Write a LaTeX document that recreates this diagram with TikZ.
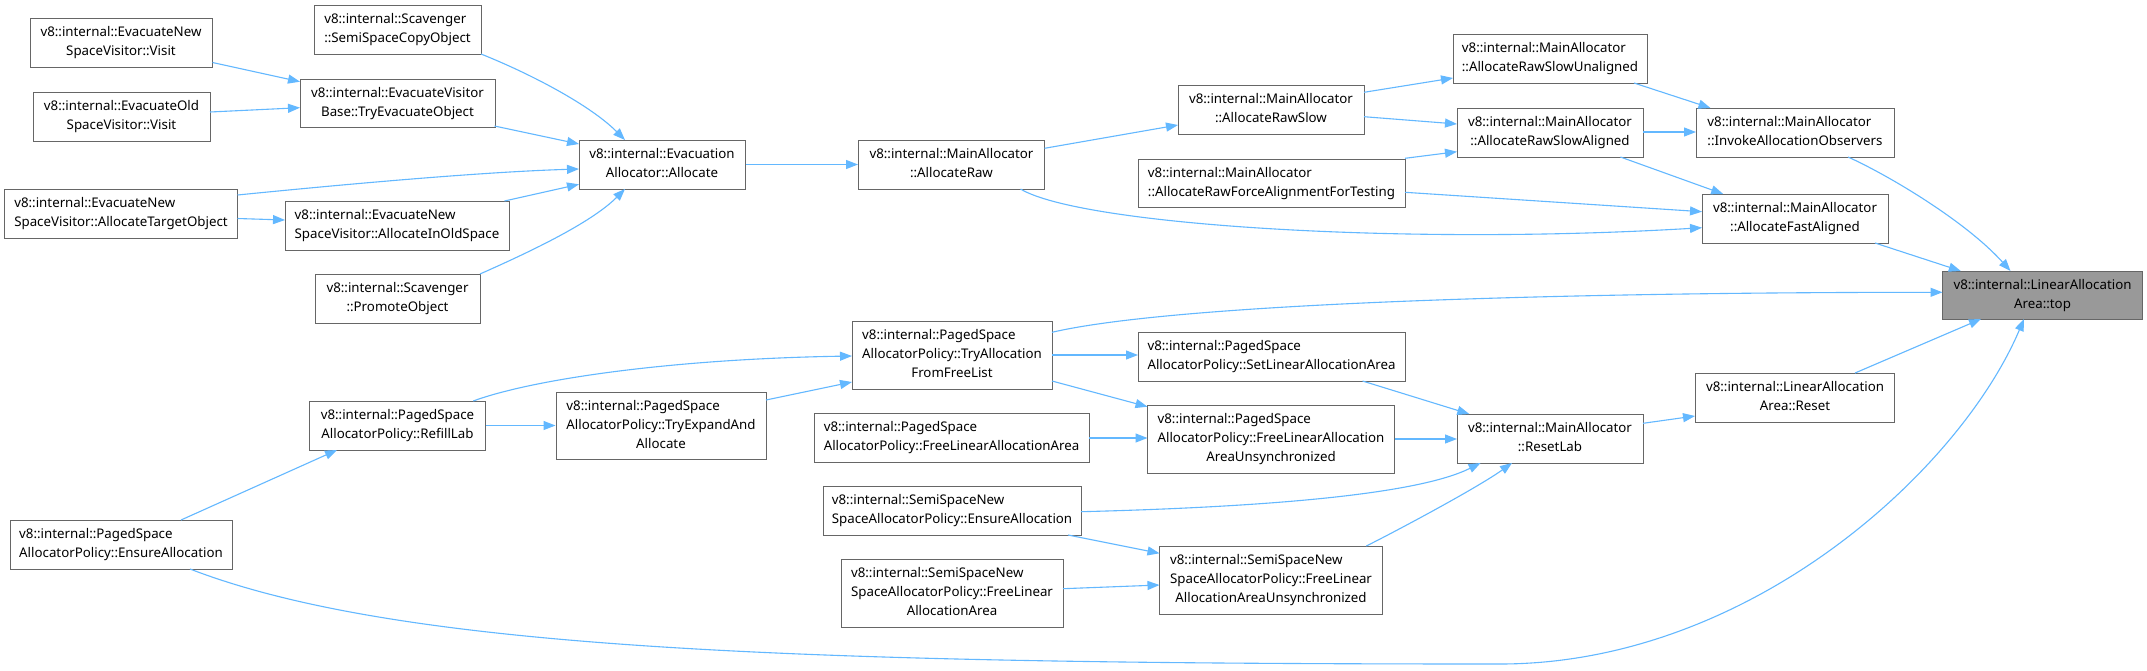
\documentclass[tikz,border=0pt]{standalone}
\usepackage{fontspec}
\setmainfont{Noto Sans}
\usetikzlibrary{arrows.meta}
\definecolor{edgec}{HTML}{63B8FF}
\definecolor{boxc}{HTML}{666666}
\definecolor{topfill}{HTML}{999999}
\newcommand{\nlbl}[1]{\begin{tabular}{@{}l@{}}#1\end{tabular}}
\newcommand{\lastln}[1]{\multicolumn{1}{@{}c@{}}{#1}}
\tikzset{
  box/.style={draw=boxc, line width=1pt, fill=white, inner sep=0pt,
    font=\fontsize{13.3}{19}\selectfont},
  edge/.style={draw=edgec, line width=1.1pt, -{Triangle[length=12pt,width=9pt]}},
}
\begin{document}
\begin{tikzpicture}[x=1pt,y=-1pt]
\fill[white] (0,0) rectangle (2147,670);
\useasboundingbox (0,0) rectangle (2147,670);

\node[box,minimum width=182pt,minimum height=49pt] (ev1) at (121,42.5) {\nlbl{v8::internal::EvacuateNew\\\lastln{SpaceVisitor::Visit}}};
\node[box,minimum width=177pt,minimum height=49pt] (ev2) at (121.5,116.5) {\nlbl{v8::internal::EvacuateOld\\\lastln{SpaceVisitor::Visit}}};
\node[box,minimum width=167pt,minimum height=49pt] (sc1) at (397.5,29.5) {\nlbl{v8::internal::Scavenger\\\lastln{::SemiSpaceCopyObject}}};
\node[box,minimum width=195pt,minimum height=48pt] (tre) at (397.5,103) {\nlbl{v8::internal::EvacuateVisitor\\\lastln{Base::TryEvacuateObject}}};
\node[box,minimum width=166pt,minimum height=49pt] (eva) at (662,164.5) {\nlbl{v8::internal::Evacuation\\\lastln{Allocator::Allocate}}};
\node[box,minimum width=233pt,minimum height=49pt] (ato) at (121,213.5) {\nlbl{v8::internal::EvacuateNew\\\lastln{SpaceVisitor::AllocateTargetObject}}};
\node[box,minimum width=224pt,minimum height=49pt] (aio) at (397,225.5) {\nlbl{v8::internal::EvacuateNew\\\lastln{SpaceVisitor::AllocateInOldSpace}}};
\node[box,minimum width=165pt,minimum height=49pt] (pro) at (397.5,298.5) {\nlbl{v8::internal::Scavenger\\\lastln{::PromoteObject}}};
\node[box,minimum width=176pt,minimum height=49pt] (rfl) at (397.5,425.5) {\nlbl{v8::internal::PagedSpace\\\lastln{AllocatorPolicy::RefillLab}}};
\node[box,minimum width=222pt,minimum height=49pt] (pea) at (121,544.5) {\nlbl{v8::internal::PagedSpace\\\lastln{AllocatorPolicy::EnsureAllocation}}};
\node[box,minimum width=210pt,minimum height=67pt] (tex) at (661,425.5) {\nlbl{v8::internal::PagedSpace\\AllocatorPolicy::TryExpandAnd\\\lastln{Allocate}}};
\node[box,minimum width=186pt,minimum height=49pt] (arw) at (951.5,164.5) {\nlbl{v8::internal::MainAllocator\\\lastln{::AllocateRaw}}};
\node[box,minimum width=186pt,minimum height=49pt] (ars) at (1271,109.5) {\nlbl{v8::internal::MainAllocator\\\lastln{::AllocateRawSlow}}};
\node[box,minimum width=267pt,minimum height=48pt] (afa) at (1271.5,183) {\nlbl{v8::internal::MainAllocator\\\lastln{::AllocateRawForceAlignmentForTesting}}};
\node[box,minimum width=200pt,minimum height=68pt] (tfl) at (952,355) {\nlbl{v8::internal::PagedSpace\\AllocatorPolicy::TryAllocation\\\lastln{FromFreeList}}};
\node[box,minimum width=267pt,minimum height=49pt] (sla) at (1271.5,356.5) {\nlbl{v8::internal::PagedSpace\\\lastln{AllocatorPolicy::SetLinearAllocationArea}}};
\node[box,minimum width=247pt,minimum height=68pt] (pfu) at (1271,439) {\nlbl{v8::internal::PagedSpace\\AllocatorPolicy::FreeLinearAllocation\\\lastln{AreaUnsynchronized}}};
\node[box,minimum width=275pt,minimum height=49pt] (pfl) at (951.5,437.5) {\nlbl{v8::internal::PagedSpace\\\lastln{AllocatorPolicy::FreeLinearAllocationArea}}};
\node[box,minimum width=258pt,minimum height=49pt] (sea) at (952,510.5) {\nlbl{v8::internal::SemiSpaceNew\\\lastln{SpaceAllocatorPolicy::EnsureAllocation}}};
\node[box,minimum width=222pt,minimum height=68pt] (sfl) at (952,593) {\nlbl{v8::internal::SemiSpaceNew\\SpaceAllocatorPolicy::FreeLinear\\\lastln{AllocationArea}}};
\node[box,minimum width=223pt,minimum height=68pt] (sfu) at (1271,580) {\nlbl{v8::internal::SemiSpaceNew\\SpaceAllocatorPolicy::FreeLinear\\\lastln{AllocationAreaUnsynchronized}}};
\node[box,minimum width=194pt,minimum height=49pt] (rsu) at (1550,58.5) {\nlbl{v8::internal::MainAllocator\\\lastln{::AllocateRawSlowUnaligned}}};
\node[box,minimum width=186pt,minimum height=49pt] (rsa) at (1550,132.5) {\nlbl{v8::internal::MainAllocator\\\lastln{::AllocateRawSlowAligned}}};
\node[box,minimum width=198pt,minimum height=49pt] (iao) at (1795,132.5) {\nlbl{v8::internal::MainAllocator\\\lastln{::InvokeAllocationObservers}}};
\node[box,minimum width=186pt,minimum height=49pt] (fal) at (1795,218.5) {\nlbl{v8::internal::MainAllocator\\\lastln{::AllocateFastAligned}}};
\node[box,fill=topfill,minimum width=200pt,minimum height=48pt] (tgt) at (2042.5,295) {\nlbl{v8::internal::LinearAllocation\\\lastln{Area::top}}};
\node[box,minimum width=186pt,minimum height=49pt] (rlb) at (1550,438.5) {\nlbl{v8::internal::MainAllocator\\\lastln{::ResetLab}}};
\node[box,minimum width=199pt,minimum height=49pt] (rst) at (1795,397.5) {\nlbl{v8::internal::LinearAllocation\\\lastln{Area::Reset}}};

\draw[edge] ([shift={(91.5,20)}]ev1.center) -- ([shift={(-97.5,-21.3)}]tre.center);
\draw[edge] ([shift={(88.5,-4.5)}]ev2.center) -- ([shift={(-97.5,4.7)}]tre.center);
\draw[edge] ([shift={(97,23)}]tre.center) -- ([shift={(-83,-20.5)}]eva.center);
\draw[edge] ([shift={(83.5,24.5)}]sc1.center) .. controls +(50,20) and +(-35,-35) .. ([shift={(-37,-24.5)}]eva.center);
\draw[edge] ([shift={(116.5,-18.5)}]ato.center) .. controls +(100,-10) and +(-100,3) .. ([shift={(-83,4.5)}]eva.center);
\draw[edge] ([shift={(116.5,5)}]ato.center) -- ([shift={(-112,-5.5)}]aio.center);
\draw[edge] ([shift={(107.5,-24.5)}]aio.center) -- ([shift={(-83,19.8)}]eva.center);
\draw[edge] ([shift={(82.5,-24.5)}]pro.center) .. controls +(45,-20) and +(-35,35) .. ([shift={(-37,24.5)}]eva.center);
\draw[edge] (eva.east) -- (arw.west);
\draw[edge] ([shift={(93,-16.2)}]arw.center) -- ([shift={(-93,15.5)}]ars.center);
\draw[edge] ([shift={(69,24.5)}]arw.center) .. controls +(60,36) and +(-300,18) .. ([shift={(-93,9.2)}]fal.center);
\draw[edge] ([shift={(93,-17.2)}]ars.center) -- ([shift={(-97,19.5)}]rsu.center);
\draw[edge] ([shift={(93,7.2)}]ars.center) -- ([shift={(-93,-8.5)}]rsa.center);
\draw[edge] ([shift={(133.5,-24.7)}]afa.center) -- ([shift={(-93,19.2)}]rsa.center);
\draw[edge] ([shift={(133.5,9.3)}]afa.center) -- ([shift={(-93,-6.8)}]fal.center);
\draw[edge] ([shift={(84,24.5)}]rsu.center) -- ([shift={(-84.5,-24.5)}]iao.center);
\draw[edge] ([shift={(93,-0.5)}]rsa.center) -- ([shift={(-99,-0.5)}]iao.center);
\draw[edge] ([shift={(70.4,24.5)}]rsa.center) -- ([shift={(-71.8,-24.5)}]fal.center);
\draw[edge] ([shift={(53,24.5)}]iao.center) .. controls +(40,18) and +(-45,-50) .. ([shift={(-32,-24)}]tgt.center);
\draw[edge] ([shift={(80,24.5)}]fal.center) -- ([shift={(-81.7,-24)}]tgt.center);
\draw[edge] ([shift={(100,-22.7)}]tfl.center) .. controls +(120,-28) and +(-400,0) .. ([shift={(-100,-2.7)}]tgt.center);
\draw[edge] ([shift={(60,-24.5)}]rst.center) -- ([shift={(-61.5,24)}]tgt.center);
\draw[edge] ([shift={(69,24.5)}]pea.center) .. controls +(210,81) and +(-700,0) .. (1500,664) .. controls +(250,0) and +(-64,151) .. ([shift={(-18.5,24)}]tgt.center);
\draw[edge] ([shift={(93,-15.2)}]rlb.center) -- ([shift={(-100,18.5)}]rst.center);
\draw[edge] ([shift={(91,24.5)}]sla.center) -- ([shift={(-80.7,-24.5)}]rlb.center);
\draw[edge] ([shift={(123.5,0)}]pfu.center) -- ([shift={(-93,0.5)}]rlb.center);
\draw[edge] ([shift={(129,1.2)}]sea.center) .. controls +(200,-5) and +(-60,30) .. ([shift={(-69.4,24.5)}]rlb.center);
\draw[edge] ([shift={(100,0)}]tfl.center) -- ([shift={(-133.5,-1.5)}]sla.center);
\draw[edge] ([shift={(100,26)}]tfl.center) -- ([shift={(-123.5,-32.3)}]pfu.center);
\draw[edge] ([shift={(137.5,0.5)}]pfl.center) -- ([shift={(-123.5,-1)}]pfu.center);
\draw[edge] ([shift={(116,24.5)}]sea.center) -- ([shift={(-111.5,-26.7)}]sfu.center);
\draw[edge] ([shift={(111,-4.3)}]sfl.center) -- ([shift={(-111.5,5)}]sfu.center);
\draw[edge] (rfl.east) -- (tex.west);
\draw[edge] ([shift={(105,-25.5)}]tex.center) -- ([shift={(-100,27)}]tfl.center);
\draw[edge] ([shift={(75.7,-24.5)}]rfl.center) .. controls +(60,-22) and +(-180,3) .. ([shift={(-100,1)}]tfl.center);
\draw[edge] ([shift={(60,-24.5)}]pea.center) -- ([shift={(-60.5,24.5)}]rfl.center);
\draw[edge] ([shift={(95.3,-34)}]sfu.center) .. controls +(30,-15) and +(-35,25) .. ([shift={(-38,24.5)}]rlb.center);
\end{tikzpicture}
\end{document}
